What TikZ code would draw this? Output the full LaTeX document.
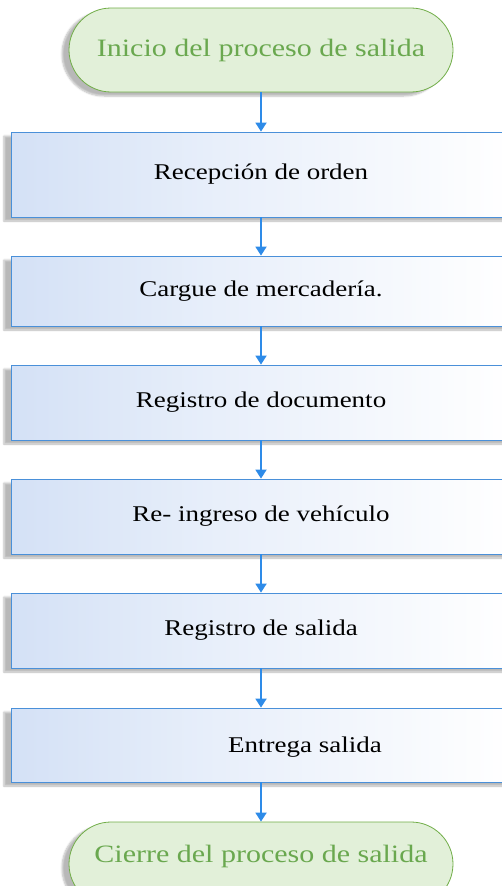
\documentclass[tikz,border=0pt]{standalone}
\usepackage{fontspec}
\setmainfont{Liberation Serif}
\newfontfamily\boxfont[FakeStretch=1.2]{Liberation Serif}
\usetikzlibrary{arrows.meta,shadows.blur}
\definecolor{termfill}{HTML}{E2F0D9}
\definecolor{termdraw}{HTML}{70AD47}
\definecolor{termtext}{HTML}{6AA84F}
\definecolor{boxdraw}{HTML}{4A90D9}
\definecolor{boxleft}{HTML}{D4E1F6}
\definecolor{arrowblue}{HTML}{2E8BE8}
\pgfdeclarehorizontalshading{boxshade}{100bp}{color(0bp)=(boxleft); color(25bp)=(boxleft); color(45bp)=(boxleft!55!white); color(75bp)=(white); color(100bp)=(white)}
\tikzset{
  terminal/.style={draw=termdraw, line width=0.8pt, fill=termfill, rounded corners=42pt,
    minimum width=384pt, minimum height=84pt, inner sep=0pt, text=termtext,
    font=\boxfont\fontsize{25}{28}\selectfont,
    blur shadow={shadow xshift=-7pt, shadow yshift=-4pt, shadow blur steps=6, shadow opacity=28}},
  termtextstyle/.style={inner sep=0pt, text=termtext, font=\boxfont\fontsize{25}{28}\selectfont},
  procbox/.style={draw=boxdraw, line width=0.8pt, shading=boxshade,
    minimum width=500pt, inner sep=0pt, text=black,
    font=\boxfont\fontsize{22.5}{26}\selectfont,
    blur shadow={shadow xshift=-7pt, shadow yshift=-4pt, shadow blur steps=6, shadow opacity=28}},
  boxtext/.style={inner sep=0pt, text=black, font=\boxfont\fontsize{22.5}{26}\selectfont},
  flow/.style={draw=arrowblue, line width=1.8pt, -{Triangle[width=11pt,length=9pt]}}
}
\begin{document}
\begin{tikzpicture}[x=1pt,y=-1pt]
\useasboundingbox (0,0) rectangle (501,886);
\node[terminal] (t1) at (261,50) {Inicio del proceso de salida};
\node[procbox, minimum height=85pt] (b1) at (261,174.5) {Recepción de orden};
\node[procbox, minimum height=70pt] (b2) at (261,291) {Cargue de mercadería.};
\node[procbox, minimum height=75pt] (b3) at (261,402.5) {Registro de documento};
\node[procbox, minimum height=75pt] (b4) at (261,516.5) {Re- ingreso de vehículo};
\node[procbox, minimum height=75pt] (b5) at (261,630.5) {Registro de salida};
\node[procbox, minimum height=74pt] (b6) at (261,745) {};
\node[boxtext] (t6) at (305,747) {Entrega salida};
\node[terminal] (t2) at (261,864) {};
\node[termtextstyle] (t2text) at (261,856) {Cierre del proceso de salida};
\draw[flow] (t1.south) -- (b1.north);
\draw[flow] (b1.south) -- (b2.north);
\draw[flow] (b2.south) -- (b3.north);
\draw[flow] (b3.south) -- (b4.north);
\draw[flow] (b4.south) -- (b5.north);
\draw[flow] (b5.south) -- (b6.north);
\draw[flow] (b6.south) -- (t2.north);
\end{tikzpicture}
\end{document}
